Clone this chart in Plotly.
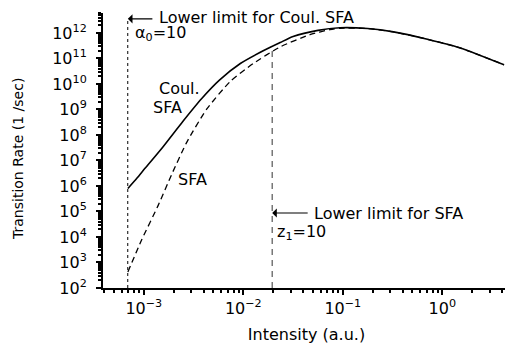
import plotly.graph_objects as go

# ---- data (log10 values) ----
coul_log_intensity = [-3.16, -3.07, -2.99, -2.81, -2.61, -2.42, -2.24, -2.03, -1.80, -1.63,
                      -1.50, -1.25, -1.03, -0.75, -0.49, -0.15, 0.18, 0.62]
coul_log_rate = [5.9, 6.3, 6.68, 7.52, 8.52, 9.42, 10.15, 10.8, 11.3, 11.62,
                 11.86, 12.1, 12.2, 12.17, 12.04, 11.75, 11.41, 10.75]

sfa_log_intensity = [-3.16, -3.02, -2.86, -2.72, -2.57, -2.37, -2.13, -1.90, -1.63, -1.33,
                     -1.13, -1.03, -0.75, -0.49, -0.15, 0.18, 0.62]
sfa_log_rate = [2.63, 3.9, 5.2, 6.45, 7.7, 9.0, 10.1, 10.8, 11.45, 11.93,
                12.13, 12.18, 12.17, 12.04, 11.75, 11.41, 10.75]

coul_limit_intensity = 6.9e-4
sfa_limit_intensity = 0.0195
sfa_limit_top_rate = 10 ** 11.35
rate_floor = 1e2

y_tick_exponents = list(range(2, 13))
x_tick_exponents = [-3, -2, -1, 0]

coul_x = [10 ** v for v in coul_log_intensity]
coul_y = [10 ** v for v in coul_log_rate]
sfa_x = [10 ** v for v in sfa_log_intensity]
sfa_y = [10 ** v for v in sfa_log_rate]

FONT = "DejaVu Sans"

fig = go.Figure()
fig.add_trace(go.Scatter(x=[coul_limit_intensity, coul_limit_intensity],
                         y=[rate_floor, 10 ** 12.55], mode="lines",
                         line=dict(color="black", width=1, dash="dot")))
fig.add_trace(go.Scatter(x=[sfa_limit_intensity, sfa_limit_intensity],
                         y=[rate_floor, sfa_limit_top_rate], mode="lines",
                         line=dict(color="#333", width=1, dash="6px,5px")))
fig.add_trace(go.Scatter(x=sfa_x, y=sfa_y, mode="lines",
                         line=dict(color="black", width=1.3, dash="6px,4px",
                                   shape="spline", smoothing=0.6)))
fig.add_trace(go.Scatter(x=coul_x, y=coul_y, mode="lines",
                         line=dict(color="black", width=1.6, shape="spline", smoothing=0.6)))

ann_font = dict(family=FONT, size=16, color="black")
annotations = [
    dict(x=-3.16, y=12.55, ax=26, ay=0, text="", showarrow=True, arrowhead=1,
         arrowsize=1.4, arrowwidth=1.1, arrowcolor="black", standoff=0),
    dict(x=-2.87, y=12.62, text="Lower limit for Coul. SFA", showarrow=False,
         xanchor="left", yanchor="middle", font=ann_font),
    dict(x=-3.11, y=11.97, text="α<sub>0</sub>=10", showarrow=False,
         xanchor="left", yanchor="middle", font=ann_font),
    dict(x=-1.71, y=4.94, ax=37, ay=0, text="", showarrow=True, arrowhead=1,
         arrowsize=1.4, arrowwidth=1.1, arrowcolor="black", standoff=0),
    dict(x=-1.31, y=4.94, text="Lower limit for SFA", showarrow=False,
         xanchor="left", yanchor="middle", font=ann_font),
    dict(x=-1.68, y=4.16, text="z<sub>1</sub>=10", showarrow=False,
         xanchor="left", yanchor="middle", font=ann_font),
    dict(x=-2.87, y=9.84, text="Coul.", showarrow=False,
         xanchor="left", yanchor="middle", font=ann_font),
    dict(x=-2.93, y=9.06, text="SFA", showarrow=False,
         xanchor="left", yanchor="middle", font=ann_font),
    dict(x=-2.68, y=6.24, text="SFA", showarrow=False,
         xanchor="left", yanchor="middle", font=ann_font),
    dict(xref="paper", yref="paper", x=-0.209, y=0.469, text="Transition Rate (1 /sec)",
         textangle=-90, showarrow=False, xanchor="center", yanchor="middle",
         font=dict(family=FONT, size=14, color="black")),
]

# page body adds an 8px margin, so the figure is 8px smaller and margins shifted
fig.update_layout(
    width=505, height=341,
    margin=dict(l=95, r=3, t=5, b=61, autoexpand=False),
    paper_bgcolor="white", plot_bgcolor="white",
    showlegend=False,
    font=dict(family=FONT, color="black"),
    annotations=annotations,
)
fig.update_xaxes(
    type="log", range=[-3.41, 0.68], automargin=False,
    tickmode="array",
    tickvals=[10 ** e for e in x_tick_exponents],
    ticktext=[f"10<sup>{e}</sup>" if e >= 0 else f"10<sup>−{-e}</sup>" for e in x_tick_exponents],
    tickfont=dict(family=FONT, size=16),
    ticks="outside", ticklen=5, tickwidth=1.5, tickcolor="black",
    minor=dict(ticks="outside", ticklen=3, tickcolor="black", dtick="D1"),
    showline=True, linecolor="black", linewidth=2,
    showgrid=False, zeroline=False,
    title=dict(text="Intensity (a.u.)", font=dict(family=FONT, size=16), standoff=12),
)
fig.update_yaxes(
    type="log", range=[2, 12.78], automargin=False,
    tickmode="array",
    tickvals=[10 ** e for e in y_tick_exponents],
    ticktext=[f"10<sup>{e}</sup>" for e in y_tick_exponents],
    tickfont=dict(family=FONT, size=16),
    ticks="outside", ticklen=5, tickwidth=1.5, tickcolor="black",
    minor=dict(ticks="outside", ticklen=3, tickcolor="black", dtick="D1"),
    ticklabelstandoff=6,
    showline=True, linecolor="black", linewidth=2,
    showgrid=False, zeroline=False,
)

fig.write_html("out.html")
